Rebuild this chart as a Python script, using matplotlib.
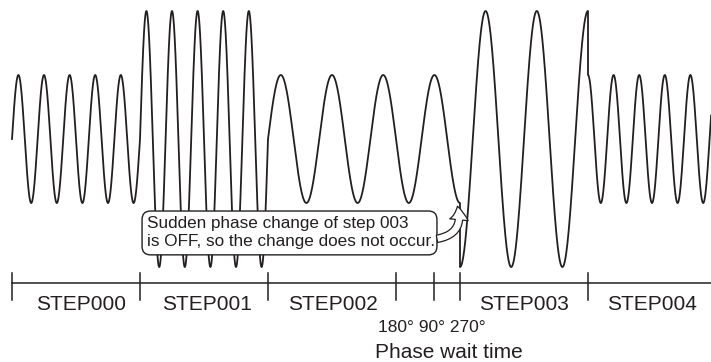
import matplotlib
matplotlib.use('Agg')
import matplotlib.pyplot as plt
import numpy as np
from matplotlib.patches import FancyBboxPatch, FancyArrowPatch

plt.rcParams['font.family'] = ['Liberation Sans', 'DejaVu Sans']

ink = '#231f20'

# time is measured in periods of the short wave
step_names = ['STEP000', 'STEP001', 'STEP002', 'STEP003', 'STEP004']
label_x = [2.7, 7.6, 12.55, 20.0, 25.0]
tick_x = [0, 5, 10, 15, 16.5, 17.5, 22.5]

# waveform pieces: start, end, amplitude, period, start phase (deg)
seg_start = [0, 5, 10, 17.5, 22.5]
seg_end = [5, 10, 17.5, 22.5, 27.4]
seg_amp = [1, 2, 1, 2, 1]
seg_period = [1, 1, 2, 2, 1]
seg_phase = [0, 0, 0, 270, 90]

phase_text = '180° 90° 270°'
wait_text = 'Phase wait time'
note_text = 'Sudden phase change of step 003\nis OFF, so the change does not occur.'

fig = plt.figure(figsize=(7.11, 3.62), dpi=100)
ax = fig.add_axes([0, 0, 1, 1])
ax.set_xlim(-0.469, 27.305)
ax.set_ylim(-3.484, 2.172)
ax.axis('off')

# build the wave piece by piece, jumps come out as vertical lines
xs = []
ys = []
for t0, t1, a, p, ph in zip(seg_start, seg_end, seg_amp, seg_period, seg_phase):
    t = np.linspace(t0, t1, 600)
    xs.append(t)
    ys.append(a * np.sin(2 * np.pi * (t - t0) / p + np.radians(ph)))
ax.plot(np.concatenate(xs), np.concatenate(ys), color=ink, lw=1.3, zorder=1)

# time line with step boundaries
axis_y = -2.25
ax.plot([0, 27.4], [axis_y, axis_y], color=ink, lw=1.1)
for tx in tick_x:
    ax.plot([tx, tx], [-2.09, -2.52], color=ink, lw=1.1)

for name, lx in zip(step_names, label_x):
    ax.text(lx, -2.58, name, ha='center', va='center', fontsize=15, color=ink)

ax.text(16.4, -2.95, phase_text, ha='center', va='center', fontsize=12.5, color=ink)
ax.text(17.07, -3.33, wait_text, ha='center', va='center', fontsize=15, color=ink)

# callout
box = FancyBboxPatch((5.08, -1.81), 11.52, 0.685,
                     boxstyle='round,pad=0,rounding_size=0.33', mutation_aspect=0.4,
                     fc='white', ec=ink, lw=1.0, zorder=3)
ax.add_patch(box)
ax.text(5.27, -1.46, note_text, ha='left', va='center', fontsize=12.3,
        linespacing=1.25, color=ink, zorder=4)

arr = FancyArrowPatch(posA=(16.6, -1.56), posB=(17.4, -1.05),
                      arrowstyle='simple,head_length=0.7,head_width=0.95,tail_width=0.38',
                      mutation_scale=14, connectionstyle='arc3,rad=0.55',
                      shrinkA=0, shrinkB=0, fc='white', ec=ink, lw=0.9, zorder=3)
ax.add_patch(arr)

fig.savefig('out.png', dpi=100)
